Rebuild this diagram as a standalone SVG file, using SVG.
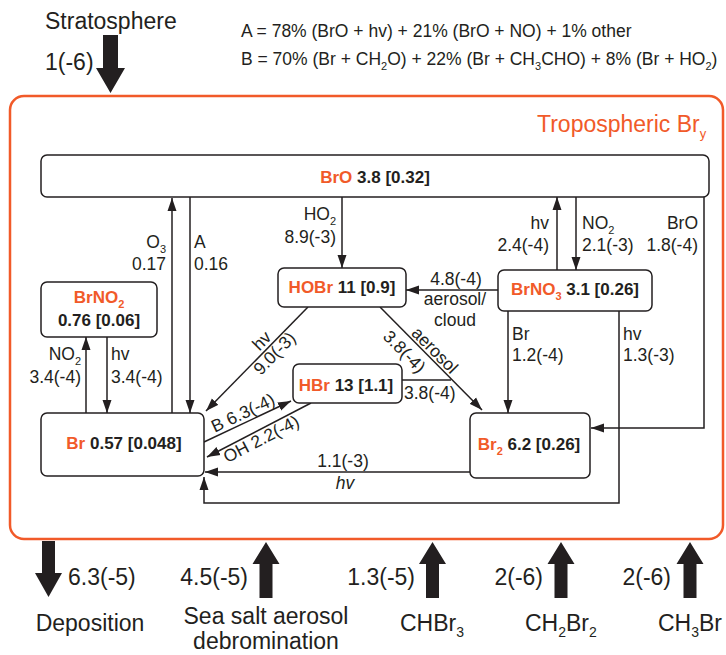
<svg xmlns="http://www.w3.org/2000/svg" width="726" height="655" viewBox="0 0 726 655">
<defs>
<style>
text{font-family:"Liberation Sans",Arial,Helvetica,sans-serif;fill:#231F20}
.lab{font-size:17.5px}
.big{font-size:23px}
.node{font-size:17px;font-weight:bold}
.or{fill:#F15A29}
.box{fill:#fff;stroke:#231F20;stroke-width:1.5}
.con{fill:none;stroke:#231F20;stroke-width:1.5}
.fat{fill:#231F20}
</style>
<marker id="ah" markerUnits="userSpaceOnUse" markerWidth="14" markerHeight="10" refX="13" refY="5" orient="auto" viewBox="0 0 14 10"><path d="M0,0.5 L13,5 L0,9.5 z" fill="#231F20"/></marker>
</defs>
<rect width="726" height="655" fill="#fff"/>

<g id="frame">
<rect x="10" y="96" width="713" height="443" rx="14" fill="none" stroke="#F15A29" stroke-width="2.5"/>
<text class="big or" x="537" y="132">Tropospheric Br<tspan font-size="13" dy="6">y</tspan></text>
</g>

<g id="legend" class="lab">
<text class="lab" x="241" y="37">A = 78% (BrO + hv) + 21% (BrO + NO) + 1% other</text>
<text class="lab" x="241" y="65">B = 70% (Br + CH<tspan font-size="11" dy="5">2</tspan><tspan dy="-5">O) + 22% (Br + CH</tspan><tspan font-size="11" dy="5">3</tspan><tspan dy="-5">CHO) + 8% (Br + HO</tspan><tspan font-size="11" dy="5">2</tspan><tspan dy="-5">)</tspan></text>
</g>

<g id="stratosphere">
<text class="big" x="45" y="29">Stratosphere</text>
<text class="big" x="45" y="70">1(-6)</text>
<polygon class="fat" points="103,35 118,35 118,68 125,68 110.5,93 96,68 103,68"/>
</g>

<g id="deposition">
<polygon class="fat" points="42,541 55,541 55,573 62,573 48.5,597 35,573 42,573"/>
<text class="big" x="68" y="585">6.3(-5)</text>
<text class="big" x="90" y="631" text-anchor="middle">Deposition</text>
</g>

<g id="seasalt">
<polygon class="fat" points="266,542 279.5,564 272.5,564 272.5,598 259.5,598 259.5,564 252.5,564"/>
<text class="big" x="248" y="585" text-anchor="end">4.5(-5)</text>
<text class="big" x="266" y="624" text-anchor="middle">Sea salt aerosol</text>
<text class="big" x="266" y="649" text-anchor="middle">debromination</text>
</g>

<g id="chbr3">
<polygon class="fat" points="432.5,542 446,564 439,564 439,598 426,598 426,564 419,564"/>
<text class="big" x="415" y="585" text-anchor="end">1.3(-5)</text>
<text class="big" x="400" y="631">CHBr<tspan font-size="14" dy="6">3</tspan></text>
</g>

<g id="ch2br2">
<polygon class="fat" points="561,542 574.5,564 567.5,564 567.5,598 554.5,598 554.5,564 547.5,564"/>
<text class="big" x="543" y="585" text-anchor="end">2(-6)</text>
<text class="big" x="525" y="631">CH<tspan font-size="14" dy="6">2</tspan><tspan dy="-6">Br</tspan><tspan font-size="14" dy="6">2</tspan></text>
</g>

<g id="ch3br">
<polygon class="fat" points="690,542 703.5,564 696.5,564 696.5,598 683.5,598 683.5,564 676.5,564"/>
<text class="big" x="671" y="585" text-anchor="end">2(-6)</text>
<text class="big" x="658" y="631">CH<tspan font-size="14" dy="6">3</tspan><tspan dy="-6">Br</tspan></text>
</g>

<g id="connectors">
<path class="con" d="M172,413 V198" marker-end="url(#ah)"/>
<path class="con" d="M190,197 V413" marker-end="url(#ah)"/>
<path class="con" d="M86,413 V337" marker-end="url(#ah)"/>
<path class="con" d="M107,337 V413" marker-end="url(#ah)"/>
<path class="con" d="M342,197 V268" marker-end="url(#ah)"/>
<path class="con" d="M557,270 V197" marker-end="url(#ah)"/>
<path class="con" d="M576,197 V270" marker-end="url(#ah)"/>
<path class="con" d="M704,197 V428 H591" marker-end="url(#ah)"/>
<path class="con" d="M498,290 H406" marker-end="url(#ah)"/>
<path class="con" d="M508,311 V413" marker-end="url(#ah)"/>
<path class="con" d="M619,311 V503 H204 V477" marker-end="url(#ah)"/>
<path class="con" d="M470,472 H205" marker-end="url(#ah)"/>
<path class="con" d="M308,307 L206,411" marker-end="url(#ah)"/>
<path class="con" d="M380,307 L482,410" marker-end="url(#ah)"/>
<path class="con" d="M402,380 H451"/>
<path class="con" d="M204,442 L291,401" marker-end="url(#ah)"/>
<path class="con" d="M311,403 L207,457" marker-end="url(#ah)"/>

<text class="lab" x="166" y="248" text-anchor="end">O<tspan font-size="11" dy="5">3</tspan></text>
<text class="lab" x="166" y="270" text-anchor="end">0.17</text>
<text class="lab" x="194" y="248">A</text>
<text class="lab" x="194" y="270">0.16</text>

<text class="lab" x="81" y="360" text-anchor="end">NO<tspan font-size="11" dy="5">2</tspan></text>
<text class="lab" x="81" y="383" text-anchor="end">3.4(-4)</text>
<text class="lab" x="111" y="360">hv</text>
<text class="lab" x="111" y="383">3.4(-4)</text>

<text class="lab" x="336" y="220" text-anchor="end">HO<tspan font-size="11" dy="5">2</tspan></text>
<text class="lab" x="336" y="243" text-anchor="end">8.9(-3)</text>

<text class="lab" x="549" y="229" text-anchor="end">hv</text>
<text class="lab" x="549" y="251" text-anchor="end">2.4(-4)</text>
<text class="lab" x="582" y="229">NO<tspan font-size="11" dy="5">2</tspan></text>
<text class="lab" x="582" y="251">2.1(-3)</text>
<text class="lab" x="698" y="229" text-anchor="end">BrO</text>
<text class="lab" x="698" y="251" text-anchor="end">1.8(-4)</text>

<text class="lab" x="456" y="285" text-anchor="middle">4.8(-4)</text>
<text class="lab" x="455" y="305" text-anchor="middle">aerosol/</text>
<text class="lab" x="455" y="326" text-anchor="middle">cloud</text>

<text class="lab" x="512" y="340">Br</text>
<text class="lab" x="512" y="361">1.2(-4)</text>
<text class="lab" x="623" y="340">hv</text>
<text class="lab" x="623" y="361">1.3(-3)</text>

<text class="lab" x="343" y="467" text-anchor="middle">1.1(-3)</text>
<text class="lab" x="345" y="489" text-anchor="middle" font-style="italic">hv</text>

<g transform="translate(268,347) rotate(-45.5)">
<text class="lab" x="0" y="-3" text-anchor="middle">hv</text>
<text class="lab" x="0" y="15" text-anchor="middle">9.0(-3)</text>
</g>
<g transform="translate(428.5,356.5) rotate(45.3)">
<text class="lab" x="0" y="-3" text-anchor="middle">aerosol</text>
</g>
<g transform="translate(414,342) rotate(45.3)">
<text class="lab" x="0" y="19.5" text-anchor="middle">3.8(-4)</text>
</g>
<text class="lab" x="404" y="399">3.8(-4)</text>
<g transform="translate(247,421.5) rotate(-25.2)">
<text class="lab" x="0" y="-3.5" text-anchor="middle">B  6.3(-4)</text>
</g>
<g transform="translate(257,431) rotate(-27.4)">
<text class="lab" x="0" y="15" text-anchor="middle">OH 2.2(-4)</text>
</g>
</g>

<g id="bro">
<rect class="box" x="41" y="155" width="668" height="42" rx="6"/>
<text class="node" x="375" y="183" text-anchor="middle"><tspan class="or">BrO</tspan> 3.8 [0.32]</text>
</g>
<g id="hobr">
<rect class="box" x="278" y="268" width="128" height="39" rx="6"/>
<text class="node" x="342" y="293" text-anchor="middle"><tspan class="or">HOBr</tspan> 11 [0.9]</text>
</g>
<g id="brno3">
<rect class="box" x="498" y="270" width="154" height="41" rx="6"/>
<text class="node" x="575" y="295" text-anchor="middle"><tspan class="or">BrNO</tspan><tspan class="or" font-size="11" dy="5">3</tspan><tspan dy="-5"> 3.1 [0.26]</tspan></text>
</g>
<g id="brno2">
<rect class="box" x="41" y="282" width="116" height="55" rx="6"/>
<text class="node" x="99" y="303" text-anchor="middle"><tspan class="or">BrNO</tspan><tspan class="or" font-size="11" dy="5">2</tspan></text>
<text class="node" x="99" y="326" text-anchor="middle">0.76 [0.06]</text>
</g>
<g id="br">
<rect class="box" x="41" y="413" width="163" height="63" rx="6"/>
<text class="node" x="124" y="449" text-anchor="middle"><tspan class="or">Br</tspan> 0.57 [0.048]</text>
</g>
<g id="hbr">
<rect class="box" x="293" y="364" width="109" height="39" rx="6"/>
<text class="node" x="346" y="391" text-anchor="middle"><tspan class="or">HBr</tspan> 13 [1.1]</text>
</g>
<g id="br2">
<rect class="box" x="470" y="413" width="120" height="65" rx="6"/>
<text class="node" x="529" y="450" text-anchor="middle"><tspan class="or">Br</tspan><tspan class="or" font-size="11" dy="5">2</tspan><tspan dy="-5"> 6.2 [0.26]</tspan></text>
</g>
</svg>
